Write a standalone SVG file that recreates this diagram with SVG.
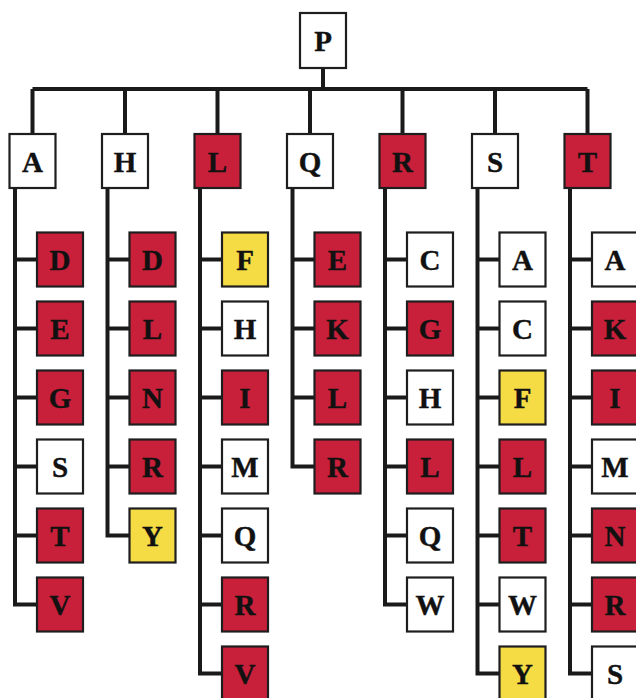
<svg xmlns="http://www.w3.org/2000/svg" width="636" height="698" viewBox="0 0 636 698">
<style>
.b{stroke:#1e1e1e;stroke-width:2.2}
.w{fill:#ffffff}
.r{fill:#c8203a}
.y{fill:#f5dc45}
.t{font-family:"Liberation Serif","DejaVu Serif",serif;font-weight:bold;font-size:29px;fill:#111;text-anchor:middle;stroke:#111;stroke-width:0.4}
.c{fill:none;stroke:#1a1a1a;stroke-width:4;stroke-linejoin:miter}
</style>
<rect width="636" height="698" fill="#ffffff"/>
<g id="connectors" class="c">
<path d="M323 68V89M32.5 89H587.5M32.5 89V134M125 89V134M217.5 89V134M310 89V134M402.5 89V134M495 89V134M587.5 89V134"/>
<path d="M15 188V604.5H37M15 259.5H37M15 328.5H37M15 397.5H37M15 466.5H37M15 535.5H37"/>
<path d="M107.5 188V535.5H129.5M107.5 259.5H129.5M107.5 328.5H129.5M107.5 397.5H129.5M107.5 466.5H129.5"/>
<path d="M200 188V673.5H222M200 259.5H222M200 328.5H222M200 397.5H222M200 466.5H222M200 535.5H222M200 604.5H222"/>
<path d="M292.5 188V466.5H314.5M292.5 259.5H314.5M292.5 328.5H314.5M292.5 397.5H314.5"/>
<path d="M385 188V604.5H407M385 259.5H407M385 328.5H407M385 397.5H407M385 466.5H407M385 535.5H407"/>
<path d="M477.5 188V673.5H499.5M477.5 259.5H499.5M477.5 328.5H499.5M477.5 397.5H499.5M477.5 466.5H499.5M477.5 535.5H499.5M477.5 604.5H499.5"/>
<path d="M570 188V673.5H592M570 259.5H592M570 328.5H592M570 397.5H592M570 466.5H592M570 535.5H592M570 604.5H592"/>
</g>
<g id="P"><rect class="b w" x="300" y="13" width="46" height="55"/><text class="t" x="323" y="51">P</text></g>
<g id="A"><rect class="b w" x="9.5" y="134" width="46" height="54"/><text class="t" x="32.5" y="171.5">A</text></g>
<g id="H"><rect class="b w" x="102" y="134" width="46" height="54"/><text class="t" x="125" y="171.5">H</text></g>
<g id="L"><rect class="b r" x="194.5" y="134" width="46" height="54"/><text class="t" x="217.5" y="171.5">L</text></g>
<g id="Q"><rect class="b w" x="287" y="134" width="46" height="54"/><text class="t" x="310" y="171.5">Q</text></g>
<g id="R"><rect class="b r" x="379.5" y="134" width="46" height="54"/><text class="t" x="402.5" y="171.5">R</text></g>
<g id="S"><rect class="b w" x="472" y="134" width="46" height="54"/><text class="t" x="495" y="171.5">S</text></g>
<g id="T"><rect class="b r" x="564.5" y="134" width="46" height="54"/><text class="t" x="587.5" y="171.5">T</text></g>

<g id="A-D"><rect class="b r" x="37" y="232.5" width="46" height="54"/><text class="t" x="60" y="270">D</text></g>
<g id="A-E"><rect class="b r" x="37" y="301.5" width="46" height="54"/><text class="t" x="60" y="339">E</text></g>
<g id="A-G"><rect class="b r" x="37" y="370.5" width="46" height="54"/><text class="t" x="60" y="408">G</text></g>
<g id="A-S"><rect class="b w" x="37" y="439.5" width="46" height="54"/><text class="t" x="60" y="477">S</text></g>
<g id="A-T"><rect class="b r" x="37" y="508.5" width="46" height="54"/><text class="t" x="60" y="546">T</text></g>
<g id="A-V"><rect class="b r" x="37" y="577.5" width="46" height="54"/><text class="t" x="60" y="615">V</text></g>

<g id="H-D"><rect class="b r" x="129.5" y="232.5" width="46" height="54"/><text class="t" x="152.5" y="270">D</text></g>
<g id="H-L"><rect class="b r" x="129.5" y="301.5" width="46" height="54"/><text class="t" x="152.5" y="339">L</text></g>
<g id="H-N"><rect class="b r" x="129.5" y="370.5" width="46" height="54"/><text class="t" x="152.5" y="408">N</text></g>
<g id="H-R"><rect class="b r" x="129.5" y="439.5" width="46" height="54"/><text class="t" x="152.5" y="477">R</text></g>
<g id="H-Y"><rect class="b y" x="129.5" y="508.5" width="46" height="54"/><text class="t" x="152.5" y="546">Y</text></g>

<g id="L-F"><rect class="b y" x="222" y="232.5" width="46" height="54"/><text class="t" x="245" y="270">F</text></g>
<g id="L-H"><rect class="b w" x="222" y="301.5" width="46" height="54"/><text class="t" x="245" y="339">H</text></g>
<g id="L-I"><rect class="b r" x="222" y="370.5" width="46" height="54"/><text class="t" x="245" y="408">I</text></g>
<g id="L-M"><rect class="b w" x="222" y="439.5" width="46" height="54"/><text class="t" x="245" y="477">M</text></g>
<g id="L-Q"><rect class="b w" x="222" y="508.5" width="46" height="54"/><text class="t" x="245" y="546">Q</text></g>
<g id="L-R"><rect class="b r" x="222" y="577.5" width="46" height="54"/><text class="t" x="245" y="615">R</text></g>
<g id="L-V"><rect class="b r" x="222" y="646.5" width="46" height="54"/><text class="t" x="245" y="684">V</text></g>

<g id="Q-E"><rect class="b r" x="314.5" y="232.5" width="46" height="54"/><text class="t" x="337.5" y="270">E</text></g>
<g id="Q-K"><rect class="b r" x="314.5" y="301.5" width="46" height="54"/><text class="t" x="337.5" y="339">K</text></g>
<g id="Q-L"><rect class="b r" x="314.5" y="370.5" width="46" height="54"/><text class="t" x="337.5" y="408">L</text></g>
<g id="Q-R"><rect class="b r" x="314.5" y="439.5" width="46" height="54"/><text class="t" x="337.5" y="477">R</text></g>

<g id="R-C"><rect class="b w" x="407" y="232.5" width="46" height="54"/><text class="t" x="430" y="270">C</text></g>
<g id="R-G"><rect class="b r" x="407" y="301.5" width="46" height="54"/><text class="t" x="430" y="339">G</text></g>
<g id="R-H"><rect class="b w" x="407" y="370.5" width="46" height="54"/><text class="t" x="430" y="408">H</text></g>
<g id="R-L"><rect class="b r" x="407" y="439.5" width="46" height="54"/><text class="t" x="430" y="477">L</text></g>
<g id="R-Q"><rect class="b w" x="407" y="508.5" width="46" height="54"/><text class="t" x="430" y="546">Q</text></g>
<g id="R-W"><rect class="b w" x="407" y="577.5" width="46" height="54"/><text class="t" x="430" y="615">W</text></g>

<g id="S-A"><rect class="b w" x="499.5" y="232.5" width="46" height="54"/><text class="t" x="522.5" y="270">A</text></g>
<g id="S-C"><rect class="b w" x="499.5" y="301.5" width="46" height="54"/><text class="t" x="522.5" y="339">C</text></g>
<g id="S-F"><rect class="b y" x="499.5" y="370.5" width="46" height="54"/><text class="t" x="522.5" y="408">F</text></g>
<g id="S-L"><rect class="b r" x="499.5" y="439.5" width="46" height="54"/><text class="t" x="522.5" y="477">L</text></g>
<g id="S-T"><rect class="b r" x="499.5" y="508.5" width="46" height="54"/><text class="t" x="522.5" y="546">T</text></g>
<g id="S-W"><rect class="b w" x="499.5" y="577.5" width="46" height="54"/><text class="t" x="522.5" y="615">W</text></g>
<g id="S-Y"><rect class="b y" x="499.5" y="646.5" width="46" height="54"/><text class="t" x="522.5" y="684">Y</text></g>

<g id="T-A"><rect class="b w" x="592" y="232.5" width="46" height="54"/><text class="t" x="615" y="270">A</text></g>
<g id="T-K"><rect class="b r" x="592" y="301.5" width="46" height="54"/><text class="t" x="615" y="339">K</text></g>
<g id="T-I"><rect class="b r" x="592" y="370.5" width="46" height="54"/><text class="t" x="615" y="408">I</text></g>
<g id="T-M"><rect class="b w" x="592" y="439.5" width="46" height="54"/><text class="t" x="615" y="477">M</text></g>
<g id="T-N"><rect class="b r" x="592" y="508.5" width="46" height="54"/><text class="t" x="615" y="546">N</text></g>
<g id="T-R"><rect class="b r" x="592" y="577.5" width="46" height="54"/><text class="t" x="615" y="615">R</text></g>
<g id="T-S"><rect class="b w" x="592" y="646.5" width="46" height="54"/><text class="t" x="615" y="684">S</text></g>
</svg>
